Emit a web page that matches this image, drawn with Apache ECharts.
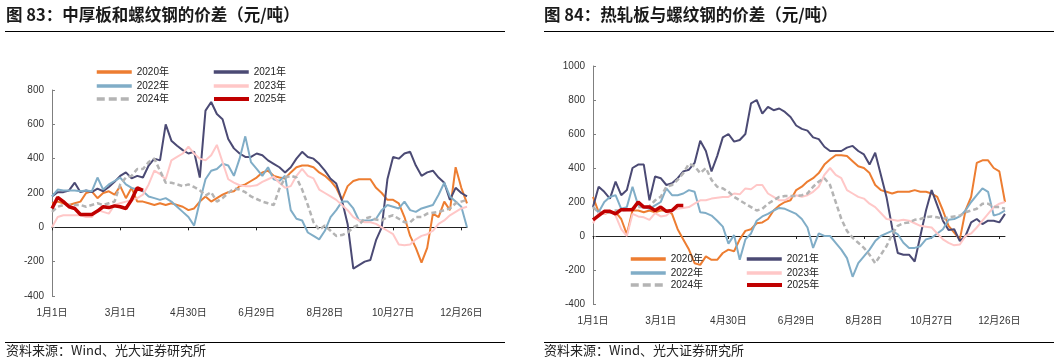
<!DOCTYPE html>
<html>
<head>
<meta charset="utf-8">
<script src="https://cdn.jsdelivr.net/npm/echarts@6/dist/echarts.min.js"></script>
<style>
html,body{margin:0;padding:0;background:#fff;}
#chart{width:1054px;height:363px;}
</style>
</head>
<body>
<div id="chart"></div>
<script>
const seriesNames = ['2020年','2021年','2022年','2023年','2024年','2025年'];
const tickLabels = ['1月1日','3月1日','4月30日','6月29日','8月28日','10月27日','12月26日'];
// one category every 5 days across the year
const categories = [];
for (let d = 0; d <= 365; d += 5) {
  const dt = new Date(2023, 0, 1 + d);
  categories.push((dt.getMonth() + 1) + '月' + dt.getDate() + '日');
}

// 图83 中厚板-螺纹钢 价差
const plate2020 = [140,150,140,130,140,150,200,210,170,200,
210,190,240,170,230,150,150,140,130,140,
130,140,130,120,100,110,150,180,150,170,
190,205,210,240,250,270,290,320,330,300,
290,285,320,350,360,360,350,320,300,270,
230,160,240,270,280,280,280,230,200,160,
160,140,60,-50,-120,-205,-120,80,60,150,
100,350,230,140];
const plate2021 = [180,205,205,215,260,205,215,205,225,210,
235,265,300,320,285,300,290,360,400,390,
600,505,475,450,430,440,290,680,730,660,
630,515,460,430,410,410,430,420,390,370,
350,320,350,400,440,410,400,370,330,283,
255,157,20,-240,-220,-200,-190,-75,0,280,
410,400,430,440,360,300,320,330,290,260,
160,230,200,180];
const plate2022 = [180,220,215,215,215,210,215,210,290,220,
250,270,290,250,230,220,210,180,170,160,
170,150,120,90,60,10,150,280,330,340,
370,360,300,400,530,380,340,300,350,280,
270,300,100,50,40,-30,-50,-70,-20,60,
100,150,150,110,40,40,40,50,100,130,
120,110,150,100,90,110,120,130,190,260,
180,150,120,0];
const plate2023 = [0,60,70,70,70,70,60,60,100,90,
80,130,140,150,160,170,190,250,330,310,
280,390,410,430,470,430,400,390,420,480,
380,280,260,245,240,240,245,265,280,295,
260,230,240,300,340,300,285,220,200,180,
160,130,100,60,40,30,30,20,0,-20,
-40,-100,-105,-100,-70,-50,-40,-20,20,40,
70,90,110,120];
const plate2024 = [90,120,130,130,130,130,120,130,140,130,
140,150,250,290,300,340,340,380,400,330,
260,260,250,240,250,235,215,185,205,150,
170,200,225,220,205,180,165,150,140,130,
225,290,300,290,220,130,30,-15,10,-20,
-50,-45,-30,0,15,50,60,45,40,60,
70,50,30,30,60,60,80,85,90,100,
110,140,150,160];
const plate2025 = [110,175,150,120,110,75,75,75,95,120,115,125,120,110,160,230,215];

// 图84 热轧板-螺纹钢 价差
const hot2020 = [230,140,130,140,140,100,10,150,150,140,
150,140,150,150,130,40,-20,-80,-160,-170,
-120,-140,-140,-100,-80,-90,-20,30,40,75,
80,100,150,180,200,210,270,290,320,340,
370,420,450,475,475,470,440,410,400,370,
300,270,260,250,260,260,260,270,260,260,
250,230,150,60,20,-20,150,230,430,445,
445,400,380,200];
const hot2021 = [170,290,260,220,320,240,270,400,420,420,
210,350,340,300,310,340,380,390,430,560,
500,380,470,580,600,555,565,600,780,800,
720,760,740,750,730,700,650,630,620,580,
570,525,500,500,500,520,530,500,480,420,
490,360,230,50,-100,-110,-110,-150,0,150,
270,180,90,35,40,-30,0,80,100,70,
90,90,80,130];
const hot2022 = [170,140,200,230,240,160,170,290,180,170,
160,180,200,280,240,240,250,270,260,140,
135,120,90,55,-45,5,-140,-20,15,90,
115,130,150,165,160,145,130,100,50,-70,
15,0,0,-40,-80,-130,-240,-160,-120,-80,
-30,0,15,30,10,-40,-70,-70,-60,-20,
-10,15,40,95,100,115,150,200,240,280,
260,120,130,150];
const hot2023 = [75,135,130,150,120,40,0,130,115,110,
95,135,115,120,150,160,165,170,190,210,
210,220,225,230,230,250,245,280,275,300,
300,250,230,210,210,230,240,230,240,260,
290,360,400,360,340,270,250,230,220,190,
170,135,100,95,90,95,90,75,60,55,
50,15,-20,-40,-55,-50,0,15,50,90,
130,170,190,200];
const hot2024 = [170,140,135,140,150,150,155,160,170,170,
175,210,230,290,300,330,370,425,410,370,
400,330,290,280,260,230,210,190,170,150,
160,190,210,230,235,235,235,240,250,290,
320,340,300,200,100,30,-10,-40,-70,-110,
-160,-110,-60,10,60,75,80,95,100,110,
115,110,100,110,115,120,140,150,160,190,
190,170,170,160];
const hot2025 = [95,120,145,145,130,155,155,155,200,170,170,150,170,145,150,180,180];

const plateData = [plate2020, plate2021, plate2022, plate2023, plate2024, plate2025];
const hotData = [hot2020, hot2021, hot2022, hot2023, hot2024, hot2025];

const colors = ['#ED7D31', '#4B4A74', '#80ADC7', '#FFC7C7', '#B4B4B4', '#C00000'];
const widths = [2, 2, 2, 2, 2.5, 3.5];
const FONT = "'Liberation Sans', Arial, 'Noto Sans CJK SC', sans-serif";
const CJK = "'Noto Sans CJK SC', 'Liberation Sans', sans-serif";

const grids = [
  {left: 52, top: 90, width: 415, height: 206},
  {left: 593, top: 66, width: 412, height: 238}
];
const yMax = [800, 1000];
const legendPos = [
  [[95, 72], [212, 72], [95, 86], [212, 86], [95, 99], [212, 99]],
  [[629, 259], [745, 259], [629, 273], [745, 273], [629, 285], [745, 285]]
];

const xAxis = [], yAxis = [], series = [], legend = [];
[0, 1].forEach(g => {
  xAxis.push({
    type: 'category', gridIndex: g, data: categories, boundaryGap: false, position: 'bottom',
    axisLine: {show: false, onZero: false}, axisTick: {show: false},
    axisLabel: {interval: 11, margin: 12, fontSize: 10, color: '#333', fontFamily: FONT,
      formatter: (v, idx) => tickLabels[Math.round(idx / 12)] || ''}
  });
  xAxis.push({
    type: 'category', gridIndex: g, data: categories, boundaryGap: false, position: 'top',
    axisLine: {show: true, onZero: true, lineStyle: {color: '#222', width: 1}},
    axisTick: {show: true, interval: 11, inside: true, length: 3, lineStyle: {color: '#222'}},
    axisLabel: {show: false}, splitLine: {show: false}
  });
  yAxis.push({
    type: 'value', gridIndex: g, min: -400, max: yMax[g], interval: 200,
    axisLine: {show: true, lineStyle: {color: '#7f7f7f', width: 1}},
    axisTick: {show: true, inside: true, length: 3, lineStyle: {color: '#7f7f7f'}},
    axisLabel: {fontSize: 10, color: '#333', margin: 8, fontFamily: FONT, formatter: v => String(v)},
    splitLine: {show: false}
  });
  const dataSet = g === 0 ? plateData : hotData;
  seriesNames.forEach((name, k) => {
    series.push({
      name, type: 'line', xAxisIndex: 2 * g, yAxisIndex: g, data: dataSet[k],
      symbol: 'none', showSymbol: false, smooth: false,
      lineStyle: {color: colors[k], width: widths[k], type: k === 4 ? [5, 3] : 'solid'},
      itemStyle: {color: colors[k]}, emphasis: {disabled: true}, z: 2 + k
    });
    const p = legendPos[g][k];
    legend.push({
      data: [name], left: p[0], top: p[1] - 5, padding: 0, itemWidth: 35, itemHeight: 12,
      itemGap: 5, selectedMode: false,
      textStyle: {fontSize: 10, color: '#222', fontFamily: FONT, padding: [0, 0, 0, 0]},
      itemStyle: {opacity: 0},
      lineStyle: {width: k === 5 ? 4 : 3.5, type: k === 4 ? [8, 4] : 'solid'}
    });
  });
});

const graphic = [];
const titles = [
  {x: 6, text: '图 83：中厚板和螺纹钢的价差（元/吨）', r0: 5, r1: 505},
  {x: 544, text: '图 84：热轧板与螺纹钢的价差（元/吨）', r0: 544, r1: 1054}
];
titles.forEach(t => {
  graphic.push({type: 'text', left: t.x, top: 6,
    style: {text: t.text, fontSize: 16.5, fontWeight: 'bold', fontFamily: CJK, fill: '#1a1a1a'}});
  graphic.push({type: 'line', shape: {x1: t.r0, y1: 31.5, x2: t.r1, y2: 31.5},
    style: {stroke: '#000', lineWidth: 1}});
  graphic.push({type: 'line', shape: {x1: t.r0, y1: 342.5, x2: t.r1, y2: 342.5},
    style: {stroke: '#000', lineWidth: 1}});
  graphic.push({type: 'text', left: t.x, top: 344,
    style: {text: '资料来源：Wind、光大证券研究所', fontSize: 13, fontFamily: CJK, fill: '#222'}});
});

const chart = echarts.init(document.getElementById('chart'), null, {renderer: 'canvas'});
chart.setOption({
  animation: false,
  backgroundColor: '#fff',
  grid: grids,
  xAxis, yAxis, series, legend, graphic
});
</script>
</body>
</html>
